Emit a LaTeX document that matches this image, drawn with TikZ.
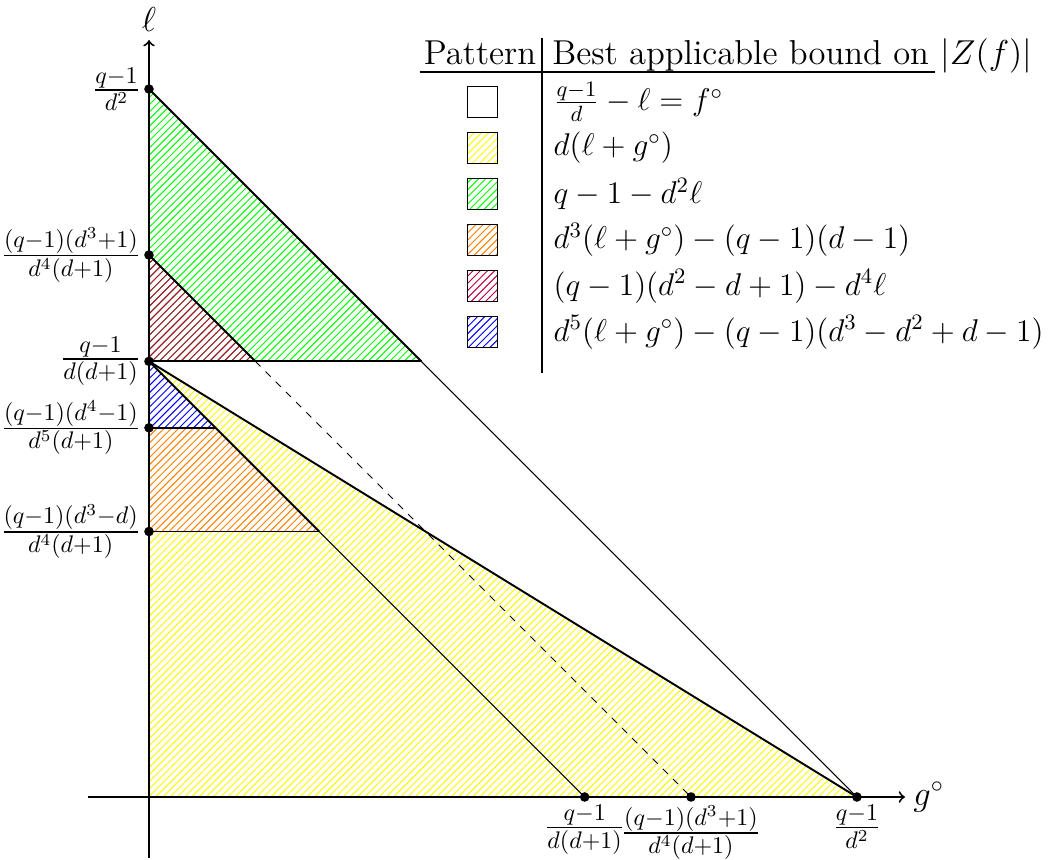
\RequirePackage{fix-cm}
\documentclass[tikz,border=0pt]{standalone}
\usepackage{amsmath,amssymb}
\usetikzlibrary{patterns,positioning}
\tikzset{
  keybox/.style={draw, thin, minimum size=0.45cm, inner sep=0pt},
  patbox/.style={keybox, pattern=north east lines, pattern color=#1},
  hatch/.style={pattern=north east lines, pattern color=#1},
  bound/.style={anchor=west, font=\fontsize{13.1}{16}\selectfont},
  bdry/.style={thick},
  extn/.style={thin},
}

\begin{document}
\begin{tikzpicture}[every node/.style={font=\Large}]
  \useasboundingbox (-2.181,-0.908) rectangle (13.263,11.667);
  % q-1 and d (d = 1.6)
  \pgfmathsetmacro{\qm}{26.53}
  \pgfmathsetmacro{\dd}{1.6}
  \pgfmathsetmacro{\xA}{\qm/(\dd*\dd)}
  \pgfmathsetmacro{\xB}{\qm/(\dd*(\dd+1))}
  \pgfmathsetmacro{\xC}{\qm*(\dd^3+1)/(\dd^4*(\dd+1))}
  \pgfmathsetmacro{\yE}{\qm*(\dd^4-1)/(\dd^5*(\dd+1))}
  \pgfmathsetmacro{\yF}{\qm*(\dd^3-\dd)/(\dd^4*(\dd+1))}

  % corners of the regions
  \coordinate (O) at (0,0);
  \coordinate (LA) at (0,\xA);
  \coordinate (LC) at (0,\xC);
  \coordinate (LB) at (0,\xB);
  \coordinate (LE) at (0,\yE);
  \coordinate (LF) at (0,\yF);
  \coordinate (GA) at (\xA,0);
  \coordinate (GB) at (\xB,0);
  \coordinate (GC) at (\xC,0);
  \coordinate (KA) at (\xA-\xB,\xB);
  \coordinate (KC) at (\xC-\xB,\xB);
  \coordinate (KE) at (\xB-\yE,\yE);
  \coordinate (KF) at (\xB-\yF,\yF);

  % hatched regions
  \fill[hatch=yellow] (LB) -- (GA) -- (O) -- (LF) -- (KF) -- cycle;
  \fill[hatch=green] (LA) -- (LB) -- (KA) -- cycle;
  \fill[hatch=purple] (LC) -- (LB) -- (KC) -- cycle;
  \fill[hatch=blue] (LB) -- (LE) -- (KE) -- cycle;
  \fill[hatch=orange] (LE) -- (KE) -- (KF) -- (LF) -- cycle;

  % boundaries
  \draw[bdry] (LA) -- (KA);
  \draw[bdry] (LC) -- (KC);
  \draw[bdry] (LB) -- (KA);
  \draw[bdry] (LB) -- (GA);
  \draw[bdry] (LB) -- (KF);
  \draw[bdry] (LE) -- (KE);
  \draw[bdry] (LF) -- (KF);
  \draw[extn] (KA) -- (GA);
  \draw[extn, dashed] (KC) -- (GC);
  \draw[extn] (KF) -- (GB);

  % axes
  \coordinate (xs) at (-0.893,0);
  \coordinate (xe) at (11.067,0);
  \coordinate (ys) at (0,-0.893);
  \coordinate (ye) at (0,11.08);
  \draw[thick,->] (xs) -- (xe);
  \draw[thick,->] (ys) -- (ye);
  \node[right] (gname) at (xe) {$g^\circ$};
  \node[above] (lname) at (ye) {$\ell$};

  \foreach \p in {LA,LC,LB,LE,LF,GA,GB,GC}
    \fill (\p) circle (2pt);

  \node[left] (tA) at (LA) {$\frac{q-1}{d^2}$};
  \node[left] (tC) at (LC) {$\frac{(q-1)(d^3+1)}{d^4(d+1)}$};
  \node[left] (tB) at (LB) {$\frac{q-1}{d(d+1)}$};
  \node[left] (tE) at (LE) {$\frac{(q-1)(d^4-1)}{d^5(d+1)}$};
  \node[left] (tF) at (LF) {$\frac{(q-1)(d^3-d)}{d^4(d+1)}$};
  \node[below] (sB) at (GB) {$\frac{q-1}{d(d+1)}$};
  \node[below] (sC) at (GC) {$\frac{(q-1)(d^3+1)}{d^4(d+1)}$};
  \node[below] (sA) at (GA) {$\frac{q-1}{d^2}$};

  % legend
  \node[anchor=base] (hpat) at (4.846,10.73) {Pattern};
  \node[anchor=base west] (hbnd) at (5.78,10.73) {Best applicable bound on $|Z(f)|$};
  \coordinate (hl) at (3.967,10.613);
  \coordinate (hr) at (11.506,10.613);
  \coordinate (vt) at (5.753,11.11);
  \coordinate (vb) at (5.753,6.207);
  \draw[thick] (hl) -- (hr);
  \draw[thick] (vt) -- (vb);
  \coordinate (txt) at (5.8,0);

  \node[keybox] (p0) at (4.882,10.174) {};
  \node[patbox=yellow, below=0.21cm of p0] (p1) {};
  \node[patbox=green, below=0.21cm of p1] (p2) {};
  \node[patbox=orange, below=0.21cm of p2] (p3) {};
  \node[patbox=purple, below=0.21cm of p3] (p4) {};
  \node[patbox=blue, below=0.21cm of p4] (p5) {};

  \node[bound] (b0) at (p0 -| txt) {$\frac{q-1}{d}-\ell=f^\circ$};
  \node[bound] (b1) at (p1 -| txt) {$d(\ell+g^\circ)$};
  \node[bound] (b2) at (p2 -| txt) {$q-1-d^2\ell$};
  \node[bound] (b3) at (p3 -| txt) {$d^3(\ell+g^\circ)-(q-1)(d-1)$};
  \node[bound] (b4) at (p4 -| txt) {$(q-1)(d^2-d+1)-d^4\ell$};
  \node[bound] (b5) at (p5 -| txt) {$d^5(\ell+g^\circ)-(q-1)(d^3-d^2+d-1)$};
\end{tikzpicture}
\end{document}
